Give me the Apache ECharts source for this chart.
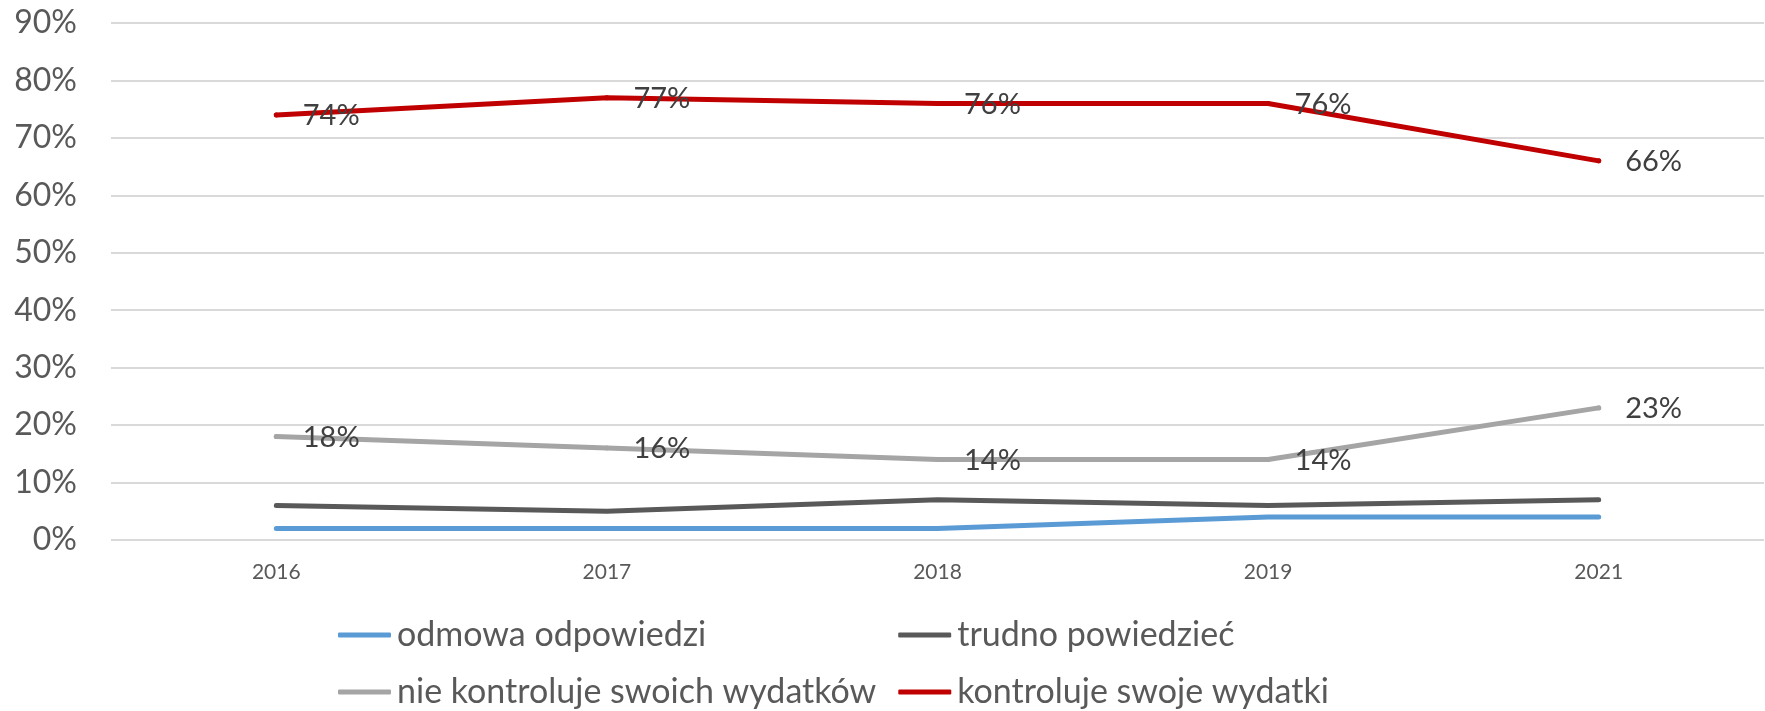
<!DOCTYPE html>
<html>
<head>
<meta charset="utf-8">
<script src="https://cdn.jsdelivr.net/npm/echarts@6/dist/echarts.min.js"></script>
<style>
  html, body { margin: 0; padding: 0; background: #fff; }
  #chart { width: 1765px; height: 711px; }
</style>
</head>
<body>
<div id="chart"></div>
<script>
// lata badania
var years = ['2016', '2017', '2018', '2019', '2021']
// wartości w %
var odmowa = [2, 2, 2, 4, 4]
var trudno = [6, 5, 7, 6, 7]
var nieKontroluje = [18, 16, 14, 14, 23]
var kontroluje = [74, 77, 76, 76, 66]
var names = ['odmowa odpowiedzi', 'trudno powiedzieć', 'nie kontroluje swoich wydatków', 'kontroluje swoje wydatki']
var colors = ['#5B9BD5', '#595959', '#A5A5A5', '#C00000']

var chart = echarts.init(document.getElementById('chart'))

function lineSeries(name, data, color, withLabel) {
  return {
    name: name,
    type: 'line',
    data: data,
    symbol: 'circle',
    symbolSize: 5,
    showSymbol: withLabel,
    lineStyle: { width: 5, color: color, cap: 'round', join: 'round' },
    itemStyle: { color: color, borderWidth: 0 },
    label: {
      show: withLabel,
      position: 'right',
      distance: 24,
      offset: [0, 1],
      formatter: '{c}%',
      fontFamily: 'Lato',
      fontSize: 29,
      color: '#404040'
    }
  }
}

function legendRow(top, gap, data) {
  return {
    left: 333,
    top: top,
    itemWidth: 53,
    itemHeight: 5,
    itemGap: gap,
    icon: 'roundRect',
    data: data,
    textStyle: { fontFamily: 'Lato', fontSize: 34, color: '#595959', padding: [0, 0, 0, 1] }
  }
}

chart.setOption({
  animation: false,
  backgroundColor: '#fff',
  grid: { left: 111, right: 1, top: 23, height: 517 },
  legend: [
    legendRow(613, 192, [names[0], names[1]]),
    legendRow(670, 22, [names[2], names[3]])
  ],
  xAxis: {
    type: 'category',
    data: years,
    boundaryGap: true,
    axisLine: { show: false },
    axisTick: { show: false },
    axisLabel: { fontFamily: 'Lato', fontSize: 21, color: '#595959', margin: 22 }
  },
  yAxis: {
    type: 'value',
    min: 0,
    max: 90,
    interval: 10,
    axisLine: { show: false },
    axisTick: { show: false },
    axisLabel: { formatter: '{value}%', fontFamily: 'Lato', fontSize: 32, color: '#595959', margin: 34 },
    splitLine: { lineStyle: { color: '#D9D9D9', width: 2 } }
  },
  series: [
    lineSeries(names[0], odmowa, colors[0], false),
    lineSeries(names[1], trudno, colors[1], false),
    lineSeries(names[2], nieKontroluje, colors[2], true),
    lineSeries(names[3], kontroluje, colors[3], true)
  ]
})
</script>
</body>
</html>
